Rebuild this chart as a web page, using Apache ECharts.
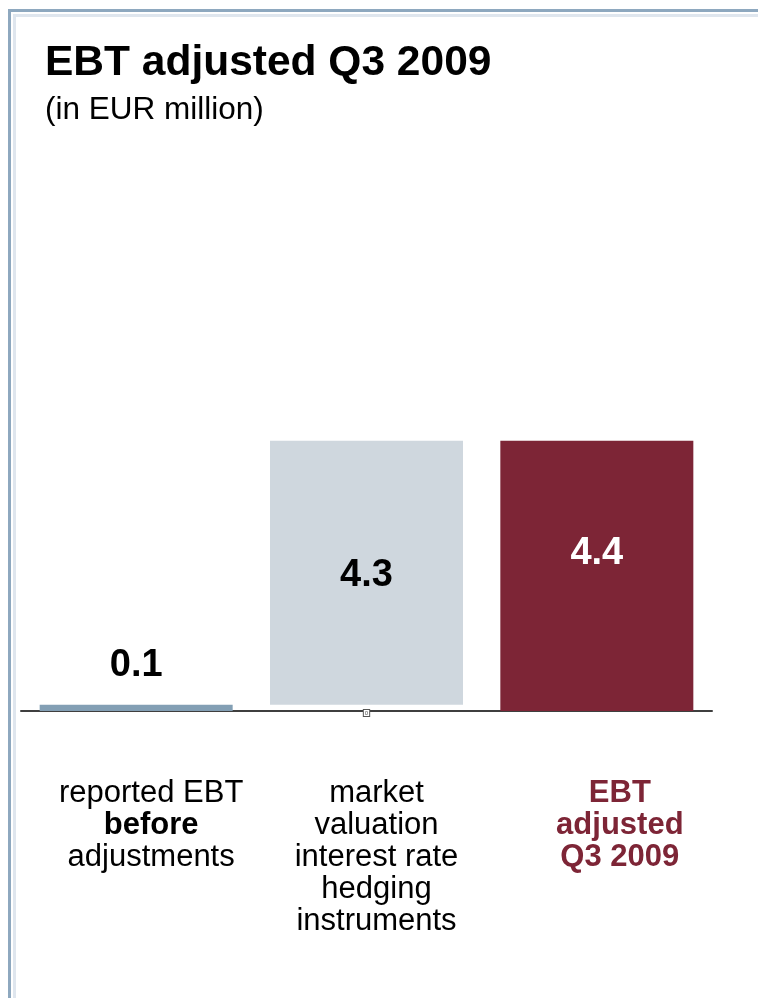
<!DOCTYPE html>
<html>
<head>
<meta charset="utf-8">
<script src="https://cdn.jsdelivr.net/npm/echarts@6/dist/echarts.min.js"></script>
<style>
html,body{margin:0;padding:0;background:#fff;}
#chart{width:758px;height:998px;}
</style>
</head>
<body>
<div id="chart"></div>
<script>
// ---- data ----
var titleText = 'EBT adjusted Q3 2009';
var subtitleText = '(in EUR million)';
var categories = [
  'reported EBT\nbefore\nadjustments',
  'market\nvaluation\ninterest rate\nhedging\ninstruments',
  'EBT\nadjusted\nQ3 2009'
];
var values = [0.1, 4.3, 4.4];
var valueLabels = ['0.1', '4.3', '4.4'];
// waterfall: step bar floats on top of the starting value
var bases = [0, values[0], 0];

var barColors = ['#839fb4', '#cfd7de', '#7d2536'];
var labelFont = '"Liberation Sans Narrow", "Arial Narrow", "Liberation Sans", Arial, sans-serif';
var textFont = '"Liberation Sans", Arial, Helvetica, sans-serif';

var chart = echarts.init(document.getElementById('chart'), null, {renderer: 'canvas'});

var option = {
  backgroundColor: '#ffffff',
  animation: false,
  title: [
    {text: titleText, left: 45, top: 42, padding: 0,
     textStyle: {fontFamily: textFont, fontSize: 42.5, fontWeight: 'bold', color: '#000'}},
    {text: subtitleText, left: 45, top: 94, padding: 0,
     textStyle: {fontFamily: textFont, fontSize: 31.5, fontWeight: 'normal', color: '#000'}}
  ],
  grid: {left: 21, right: 46, top: 404, bottom: 287, containLabel: false},
  xAxis: {
    type: 'category',
    data: categories,
    axisLine: {show: true, lineStyle: {color: '#3f3f3f', width: 2}},
    axisTick: {show: false},
    axisLabel: {
      interval: 0,
      margin: 66,
      fontFamily: textFont,
      fontSize: 31,
      lineHeight: 32,
      color: '#000',
      formatter: function (val, idx) {
        var lines = val.split('\n');
        if (idx === 0) {
          return '{a|' + lines[0] + '}\n{b|' + lines[1] + '}\n{a|' + lines[2] + '}';
        }
        if (idx === 1) {
          return lines.map(function (l) { return '{c|' + l + '}'; }).join('\n');
        }
        return lines.map(function (l) { return '{d|' + l + '}'; }).join('\n');
      },
      rich: {
        a: {fontFamily: textFont, fontSize: 31, lineHeight: 32, color: '#000', padding: [0, 0, 0, 30]},
        b: {fontFamily: textFont, fontSize: 31, lineHeight: 32, color: '#000', fontWeight: 'bold', padding: [0, 0, 0, 30]},
        c: {fontFamily: textFont, fontSize: 31, lineHeight: 32, color: '#000', padding: [0, 0, 0, 20]},
        d: {fontFamily: textFont, fontSize: 31, lineHeight: 32, color: '#7d2536', fontWeight: 'bold', padding: [0, 0, 0, 46]}
      }
    }
  },
  yAxis: {
    type: 'value',
    min: 0,
    max: 5,
    show: false,
    splitLine: {show: false}
  },
  series: [
    {
      name: 'base',
      type: 'bar',
      stack: 'wf',
      barWidth: 193,
      silent: true,
      itemStyle: {color: 'transparent'},
      data: bases.map(function (b, i) {
        return {
          value: b,
          label: i === 1 ? {
            show: true, position: 'insideBottom', distance: -5, formatter: '0',
            fontSize: 6, color: '#555', fontFamily: textFont,
            backgroundColor: '#ffffff', borderColor: '#555', borderWidth: 1, padding: [0, 1]
          } : {show: false}
        };
      })
    },
    {
      name: 'value',
      type: 'bar',
      stack: 'wf',
      barWidth: 193,
      data: values.map(function (v, i) {
        var lab;
        if (i === 0) {
          lab = {show: true, position: 'top', distance: 20, color: '#000'};
        } else if (i === 1) {
          lab = {show: true, position: 'inside', offset: [0, 3], color: '#000'};
        } else {
          lab = {show: true, position: 'inside', offset: [0, -22], color: '#ffffff'};
        }
        lab.formatter = valueLabels[i];
        lab.fontFamily = labelFont;
        lab.fontSize = 38;
        lab.fontWeight = 'bold';
        return {value: v, itemStyle: {color: barColors[i]}, label: lab};
      })
    }
  ],
  graphic: [
    {type: 'rect', silent: true, shape: {x: 8, y: 9, width: 3, height: 989}, style: {fill: '#8ea8bf'}},
    {type: 'rect', silent: true, shape: {x: 8, y: 9, width: 750, height: 3}, style: {fill: '#8ea8bf'}},
    {type: 'rect', silent: true, shape: {x: 13, y: 14, width: 3, height: 984}, style: {fill: '#dfe6ee'}},
    {type: 'rect', silent: true, shape: {x: 13, y: 14, width: 745, height: 3}, style: {fill: '#dfe6ee'}}
  ]
};

chart.setOption(option);
</script>
</body>
</html>
